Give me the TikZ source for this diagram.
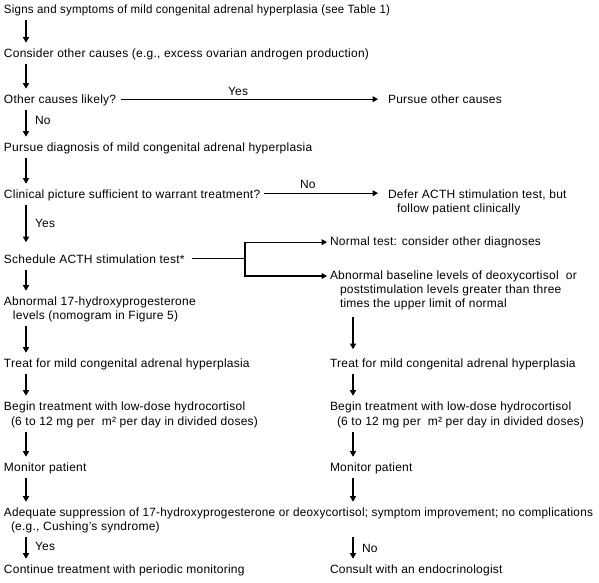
\documentclass[tikz,border=0pt]{standalone}
\usepackage{fontspec}
\setmainfont[LetterSpace=2]{Liberation Sans}
\usetikzlibrary{arrows.meta}
\newcommand\flowtxt[1]{\begin{tabular}[t]{@{}l@{}}#1\end{tabular}}
\begin{document}
\begin{tikzpicture}[x=1pt,y=-1pt,
  box/.style={anchor=base west, inner sep=0pt, outer sep=0pt, font=\fontsize{12}{14}\selectfont},
  lbl/.style={anchor=base west, inner sep=0pt, outer sep=0pt, font=\fontsize{12}{14}\selectfont},
  conn/.style={line width=1.1pt},
  flow/.style={line width=1.1pt, -{Triangle[length=5.5pt,width=6pt]}},
  vflow/.style={flow, shorten <=3pt, shorten >=4.5pt}]
\fill[white] (0,0) rectangle (599,582);
\useasboundingbox (0,0) rectangle (599,582);
\coordinate (colL) at (26,0);
\coordinate (colR) at (353,0);
\coordinate (forkx) at (245,0);
% left column
\node[box] (signs) at (4,13) {\flowtxt{\resizebox{386pt}{\height}{Signs and symptoms of mild congenital adrenal hyperplasia (see Table 1)}}};
\node[box] (consider) at (4,57) {\flowtxt{Consider other causes (e.g., excess ovarian androgen production)}};
\node[box] (other) at (4,103) {\flowtxt{Other causes likely?}};
\node[box] (pother) at (388,103) {\flowtxt{Pursue other causes}};
\node[box] (pdiag) at (4,151) {\flowtxt{Pursue diagnosis of mild congenital adrenal hyperplasia}};
\node[box] (clin) at (4,198) {\flowtxt{Clinical picture sufficient to warrant treatment?}};
\node[box] (defer) at (388,198) {\flowtxt{Defer ACTH stimulation test, but\\\hspace*{9pt}follow patient clinically}};
\node[box] (sched) at (4,263) {\flowtxt{Schedule ACTH stimulation test*}};
\node[box] (normal) at (330,245) {\flowtxt{Normal test: consider other diagnoses}};
\node[box] (abn) at (330,279) {\flowtxt{Abnormal baseline levels of deoxycortisol\ \ or\\\hspace*{10pt}poststimulation levels greater than three\\\hspace*{10pt}times the upper limit of normal}};
\node[box] (abn17) at (4,305) {\flowtxt{Abnormal 17-hydroxyprogesterone\\\hspace*{9pt}levels (nomogram in Figure 5)}};
\node[box] (treatL) at (4,367) {\flowtxt{Treat for mild congenital adrenal hyperplasia}};
\node[box] (treatR) at (330,367) {\flowtxt{Treat for mild congenital adrenal hyperplasia}};
\node[box] (beginL) at (4,410) {\flowtxt{Begin treatment with low-dose hydrocortisol\\[1pt]\hspace*{7pt}(6 to 12 mg per\ \ m² per day in divided doses)}};
\node[box] (beginR) at (330,410) {\flowtxt{Begin treatment with low-dose hydrocortisol\\[1pt]\hspace*{7pt}(6 to 12 mg per\ \ m² per day in divided doses)}};
\node[box] (monL) at (4,471) {\flowtxt{Monitor patient}};
\node[box] (monR) at (330,471) {\flowtxt{Monitor patient}};
\node[box] (adeq) at (4,516) {\flowtxt{\resizebox{589pt}{\height}{Adequate suppression of 17-hydroxyprogesterone or deoxycortisol; symptom improvement; no complications}\\\hspace*{7pt}(e.g., Cushing's syndrome)}};
\node[box] (cont) at (4,573) {\flowtxt{Continue treatment with periodic monitoring}};
\node[box] (consult) at (330,573) {\flowtxt{Consult with an endocrinologist}};
% labels
\node[lbl] (yes1) at (228,95) {Yes};
\node[lbl] (no1) at (35,124) {No};
\node[lbl] (no2) at (300,188) {No};
\node[lbl] (yes2) at (35,227) {Yes};
\node[lbl] (yes3) at (35,550) {Yes};
\node[lbl] (no3) at (362,552) {No};
% vertical connectors, left
\draw[vflow] (signs.south -| colL) -- (consider.north -| colL);
\draw[vflow] (consider.south -| colL) -- (other.north -| colL);
\draw[vflow] (other.south -| colL) -- (pdiag.north -| colL);
\draw[vflow] (pdiag.south -| colL) -- (clin.north -| colL);
\draw[vflow, shorten >=11pt] (clin.south -| colL) -- (sched.north -| colL);
\draw[vflow] (sched.south -| colL) -- (abn17.north -| colL);
\draw[vflow] (abn17.south -| colL) -- (treatL.north -| colL);
\draw[vflow] (treatL.south -| colL) -- (beginL.north -| colL);
\draw[vflow] (beginL.south -| colL) -- (monL.north -| colL);
\draw[vflow] (monL.south -| colL) -- (adeq.north -| colL);
\draw[vflow] (adeq.south -| colL) -- (cont.north -| colL);
% vertical connectors, right
\draw[vflow, shorten <=6pt, shorten >=8pt] (abn.south -| colR) -- (treatR.north -| colR);
\draw[vflow] (treatR.south -| colR) -- (beginR.north -| colR);
\draw[vflow] (beginR.south -| colR) -- (monR.north -| colR);
\draw[vflow] (monR.south -| colR) -- (adeq.north -| colR);
\draw[vflow] (adeq.south -| colR) -- (consult.north -| colR);
% horizontal connectors
\draw[flow] ([xshift=5pt,yshift=1pt]other.east) -- ([xshift=-10pt,yshift=1pt]pother.west);
\draw[flow] ([xshift=4pt,yshift=2pt]clin.east) -- ([xshift=-10pt,yshift=2pt]clin.east -| defer.west);
\coordinate (abn1) at ([yshift=-6.8pt]abn.north west);
\draw[conn] ([xshift=7pt,yshift=2pt]sched.east) -- ([yshift=2pt]sched.east -| forkx);
\draw[conn, line cap=rect] (forkx |- normal.west) -- (forkx |- abn1);
\draw[flow] (forkx |- normal.west) -- ([xshift=-3pt]normal.west);
\draw[flow] (forkx |- abn1) -- ([xshift=-3pt]abn1);
\end{tikzpicture}
\end{document}
